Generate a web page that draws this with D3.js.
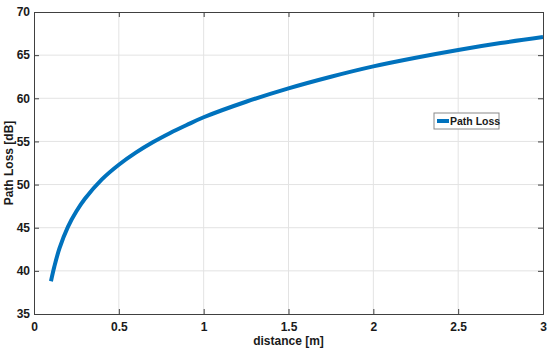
<!DOCTYPE html>
<html>
<head>
<meta charset="utf-8">
<script src="https://cdn.jsdelivr.net/npm/d3@7/dist/d3.min.js"></script>
<style>
  html, body { margin: 0; padding: 0; background: #ffffff; }
  svg { display: block; }
  text { font-family: "Liberation Sans", Arial, Helvetica, sans-serif; font-weight: bold; fill: #1a1a1a; }
</style>
</head>
<body>
<svg id="chart" width="550" height="352"></svg>
<script>
// Data
const distance = [0.1, 0.12, 0.15, 0.2, 0.25, 0.3, 0.4, 0.5, 0.6, 0.7, 0.8, 0.9, 1.0, 1.25, 1.5, 1.75, 2.0, 2.25, 2.5, 2.75, 3.0];
const pathLoss = [38.8, 40.5, 42.6, 45.1, 46.9, 48.35, 50.6, 52.3, 53.7, 54.9, 55.95, 56.9, 57.8, 59.6, 61.15, 62.5, 63.7, 64.7, 65.6, 66.4, 67.1];
const xTicks = [0, 0.5, 1, 1.5, 2, 2.5, 3];
const yTicks = [35, 40, 45, 50, 55, 60, 65, 70];
const seriesName = "Path Loss";
const xLabel = "distance [m]";
const yLabel = "Path Loss [dB]";

const svg = d3.select("#chart");
const m = { left: 34, right: 7, top: 12, bottom: 38 };
const W = 550, H = 352;
const x = d3.scaleLinear().domain([0, 3]).range([m.left, W - m.right]);
const y = d3.scaleLinear().domain([35, 70]).range([H - m.bottom, m.top]);

// grid
const g = svg.append("g");
g.selectAll(".gx").data(xTicks.slice(1, -1)).join("line")
  .attr("x1", d => x(d)).attr("x2", d => x(d))
  .attr("y1", y(35)).attr("y2", y(70))
  .attr("stroke", "#e3e3e3").attr("stroke-width", 1);
g.selectAll(".gy").data(yTicks.slice(1, -1)).join("line")
  .attr("y1", d => y(d)).attr("y2", d => y(d))
  .attr("x1", x(0)).attr("x2", x(3))
  .attr("stroke", "#e3e3e3").attr("stroke-width", 1);

// curve
const line = d3.line().x((d, i) => x(distance[i])).y(d => y(d)).curve(d3.curveCatmullRom.alpha(0.5));
svg.append("path").datum(pathLoss)
  .attr("d", line)
  .attr("fill", "none")
  .attr("stroke", "#0072BD")
  .attr("stroke-width", 4);

// axes (box with inward ticks on all sides)
const axisColor = "#404040";
const tl = 5;
const xb = svg.append("g").attr("transform", `translate(0,${y(35)})`)
  .call(d3.axisBottom(x).tickValues(xTicks).tickSize(-tl).tickPadding(8).tickFormat(d3.format("")));
const xt = svg.append("g").attr("transform", `translate(0,${y(70)})`)
  .call(d3.axisTop(x).tickValues(xTicks).tickSize(-tl).tickFormat(""));
const yl = svg.append("g").attr("transform", `translate(${x(0)},0)`)
  .call(d3.axisLeft(y).tickValues(yTicks).tickSize(-tl).tickPadding(4));
const yr = svg.append("g").attr("transform", `translate(${x(3)},0)`)
  .call(d3.axisRight(y).tickValues(yTicks).tickSize(-tl).tickFormat(""));
[xb, xt, yl, yr].forEach(a => {
  a.selectAll("path").attr("stroke", axisColor).attr("stroke-width", 1);
  a.selectAll("line").attr("stroke", axisColor);
  a.selectAll("text").attr("font-size", "12px").attr("font-family", null).attr("fill", "#1a1a1a");
});
xb.selectAll("text").attr("dy", "0.71em");

// axis labels
svg.append("text").attr("x", (x(0) + x(3)) / 2).attr("y", 345)
  .attr("text-anchor", "middle").attr("font-size", "12px").text(xLabel);
svg.append("text").attr("transform", `translate(13,${(y(35) + y(70)) / 2}) rotate(-90)`)
  .attr("text-anchor", "middle").attr("font-size", "12px").text(yLabel);

// legend
const lg = svg.append("g").attr("transform", "translate(434,113)");
lg.append("rect").attr("width", 65).attr("height", 16)
  .attr("fill", "#ffffff").attr("stroke", "#8a8a8a").attr("stroke-width", 1);
lg.append("line").attr("x1", 3).attr("x2", 15).attr("y1", 8).attr("y2", 8)
  .attr("stroke", "#0072BD").attr("stroke-width", 4);
lg.append("text").attr("x", 16).attr("y", 12).attr("font-size", "10.5px").text(seriesName);
</script>
</body>
</html>
